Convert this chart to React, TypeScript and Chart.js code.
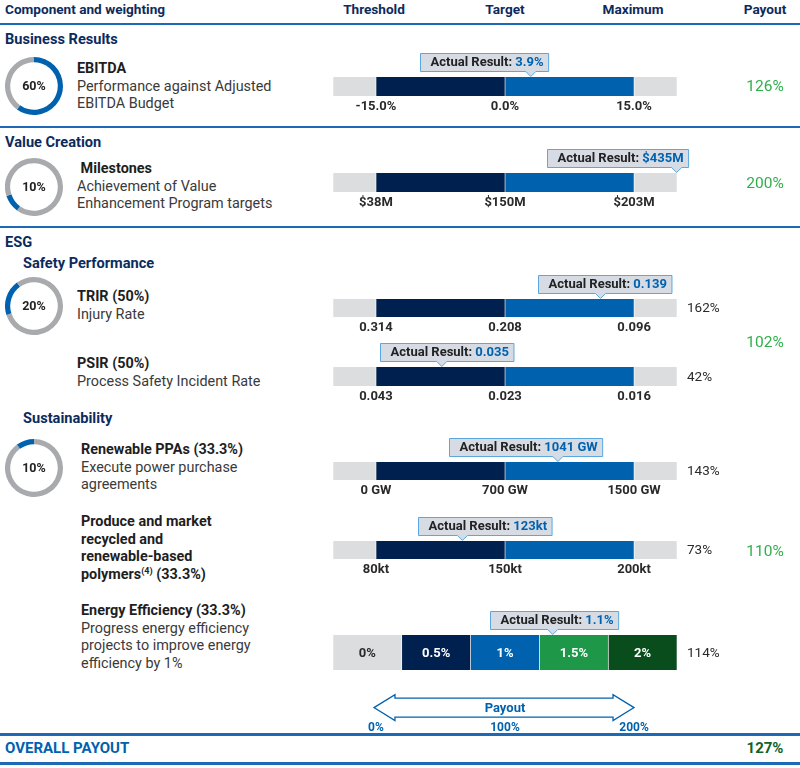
import React, { useEffect, useRef } from "react";
import { Chart, registerables } from "chart.js";
Chart.register(...registerables);

const FONT = "Roboto, 'Noto Sans', 'Liberation Sans', sans-serif";

// ---------------- data ----------------
const componentNames = ["Business Results", "Value Creation", "Safety Performance", "Sustainability"];
const componentWeights = [60, 10, 20, 10];
const componentPayouts = ["126%", "200%", "102%", "110%"];
const overallPayout = "127%";

const thresholdLabels = ["-15.0%", "$38M", "0.314", "0.043", "0 GW", "80kt"];
const targetLabels = ["0.0%", "$150M", "0.208", "0.023", "700 GW", "150kt"];
const maximumLabels = ["15.0%", "$203M", "0.096", "0.016", "1500 GW", "200kt"];
const actualResults = ["3.9%", "$435M", "0.139", "0.035", "1041 GW", "123kt", "1.1%"];
// where the "Actual Result" marker sits, on the payout scale (%)
const markerPositions = [120, 233, 174, 51, 141, 67, 137];
// centre of each callout box, on the payout scale (%)
const calloutCenters = [84, 187, 177, 55, 116, 84, 138];
const metricPayouts = [null, null, "162%", "42%", "143%", "73%", "114%"];

const energyLevels = ["0%", "0.5%", "1%", "1.5%", "2%"];
const energyEdges = [-33.3, 20, 73.3, 126.7, 180, 233.3];

const bandEdges = [-33.3, 0, 100, 200, 233.3]; // below threshold | threshold-target | target-max | above max
const payoutTicks = [0, 100, 200];
const axisMin = -33.3;
const axisMax = 233.3;

// ---------------- styles ----------------
const NAVY_TEXT = "#0c2b5c";
const C_GRAY = "#dcdddf";
const C_NAVY = "#00214f";
const C_BLUE = "#0062ae";
const C_GREEN = "#1f9748";
const C_DKGREEN = "#0a4d1d";
const LINE_BLUE = "#1c6ab6";
const DONUT_GRAY = "#a8aaad";
const bandColors = [C_GRAY, C_NAVY, C_BLUE, C_GRAY];
const energyColors = [C_GRAY, C_NAVY, C_BLUE, C_GREEN, C_DKGREEN];
const energyTextColors = ["#2a2a2a", "#fff", "#fff", "#fff", "#fff"];

// layout of rows (page pixels)
const rowBarTop = [77, 173, 299, 367, 462, 541, 635];
const rowBarHeight = [19, 19, 18, 19, 18, 18, 35];
const ROW_LEFT = 300;
const ROW_WIDTH = 460;
const PAD_L = 33;
const PAD_R = 83;
const PAD_T = 32;
const PAD_B = 20;

function BarRow({ idx }: { idx: number }) {
  const ref = useRef<HTMLCanvasElement>(null);
  const energy = idx === 6;
  const h = rowBarHeight[idx];
  useEffect(() => {
    const edges = energy ? energyEdges : bandEdges;
    const colors = energy ? energyColors : bandColors;
    const datasets = colors.map((c, i) => ({
      data: [[edges[i], edges[i + 1]]],
      backgroundColor: c,
      borderColor: "#ffffff",
      borderWidth: { left: 0.6, right: 0.6, top: 0, bottom: 0 },
      borderSkipped: false,
    }));
    const overlay = {
      id: "overlay" + idx,
      afterDatasetsDraw(chart: any) {
        const ctx = chart.ctx;
        const xs = chart.scales.x;
        const a = chart.chartArea;
        const cy = (a.top + a.bottom) / 2;
        ctx.save();
        ctx.textBaseline = "middle";
        ctx.font = `bold 13px ${FONT}`;
        ctx.textAlign = "center";
        if (energy) {
          energyLevels.forEach((t, i) => {
            ctx.fillStyle = energyTextColors[i];
            const x = (xs.getPixelForValue(energyEdges[i]) + xs.getPixelForValue(energyEdges[i + 1])) / 2;
            ctx.fillText(t, x, cy + 1);
          });
        } else {
          ctx.fillStyle = "#2a2a2a";
          const labs = [thresholdLabels[idx], targetLabels[idx], maximumLabels[idx]];
          labs.forEach((t, i) => ctx.fillText(t, xs.getPixelForValue(payoutTicks[i]), a.bottom + 11));
        }
        const rp = metricPayouts[idx];
        if (rp) {
          ctx.font = `13.5px ${FONT}`;
          ctx.fillStyle = "#2a2a2a";
          ctx.textAlign = "left";
          ctx.fillText(rp, a.right + 10, cy + 1);
        }
        // callout
        ctx.font = `bold 13px ${FONT}`;
        const lab = "Actual Result: ";
        const val = actualResults[idx];
        const w1 = ctx.measureText(lab).width;
        const w2 = ctx.measureText(val).width;
        const bw = w1 + w2 + 15;
        const bh = 18;
        const cxp = xs.getPixelForValue(calloutCenters[idx]);
        const mx = xs.getPixelForValue(markerPositions[idx]);
        const bx = Math.round(cxp - bw / 2) + 0.5;
        const by = Math.round(a.top - 6 - bh) + 0.5;
        ctx.beginPath();
        ctx.moveTo(bx, by);
        ctx.lineTo(bx + bw, by);
        ctx.lineTo(bx + bw, by + bh);
        ctx.lineTo(mx + 5, by + bh);
        ctx.lineTo(mx, by + bh + 5);
        ctx.lineTo(mx - 5, by + bh);
        ctx.lineTo(bx, by + bh);
        ctx.closePath();
        ctx.fillStyle = "#d6dbe4";
        ctx.fill();
        ctx.strokeStyle = "#5aa8de";
        ctx.lineWidth = 1;
        ctx.stroke();
        ctx.textAlign = "left";
        ctx.fillStyle = "#222";
        ctx.fillText(lab, bx + 10, by + bh / 2 + 0.5);
        ctx.fillStyle = C_BLUE;
        ctx.fillText(val, bx + 10 + w1, by + bh / 2 + 0.5);
        ctx.restore();
      },
    };
    const chart = new Chart(ref.current as HTMLCanvasElement, {
      type: "bar",
      data: { labels: [""], datasets: datasets as any },
      options: {
        indexAxis: "y",
        responsive: false,
        animation: false,
        events: [],
        layout: { padding: { left: PAD_L, right: PAD_R, top: PAD_T, bottom: PAD_B } },
        scales: {
          x: { type: "linear", min: axisMin, max: axisMax, display: false },
          y: { display: false },
        },
        datasets: { bar: { grouped: false, barPercentage: 1, categoryPercentage: 1 } } as any,
        plugins: { legend: { display: false }, tooltip: { enabled: false } },
      },
      plugins: [overlay as any],
    });
    return () => chart.destroy();
  }, []);
  return (
    <canvas
      ref={ref}
      width={ROW_WIDTH}
      height={PAD_T + h + PAD_B}
      style={{ position: "absolute", left: ROW_LEFT, top: rowBarTop[idx] - PAD_T }}
    />
  );
}

function Donut({ i, cy }: { i: number; cy: number }) {
  const ref = useRef<HTMLCanvasElement>(null);
  useEffect(() => {
    const before = componentWeights.slice(0, i).reduce((s, v) => s + v, 0);
    const w = componentWeights[i];
    const chart = new Chart(ref.current as HTMLCanvasElement, {
      type: "doughnut",
      data: {
        labels: ["other", componentNames[i], "rest"],
        datasets: [
          {
            data: [before, w, 100 - before - w],
            backgroundColor: [DONUT_GRAY, C_BLUE, DONUT_GRAY],
            borderWidth: 0,
          },
        ],
      },
      options: {
        responsive: false,
        animation: false,
        events: [],
        cutout: "82%",
        plugins: { legend: { display: false }, tooltip: { enabled: false } },
      },
    });
    return () => chart.destroy();
  }, []);
  return (
    <>
      <canvas ref={ref} width={58} height={58} style={{ position: "absolute", left: 5, top: cy - 29 }} />
      <div
        style={{
          position: "absolute",
          left: 5,
          top: cy - 9,
          width: 58,
          textAlign: "center",
          font: `bold 12.5px ${FONT}`,
          lineHeight: "18px",
          color: "#222",
        }}
      >
        {componentWeights[i]}%
      </div>
    </>
  );
}

function PayoutAxis() {
  const ref = useRef<HTMLCanvasElement>(null);
  useEffect(() => {
    const arrow = {
      id: "arrow",
      afterDraw(chart: any) {
        const ctx = chart.ctx;
        const xs = chart.scales.x;
        const a = chart.chartArea;
        const x0 = xs.getPixelForValue(payoutTicks[0]) - 2;
        const x2 = xs.getPixelForValue(payoutTicks[2]);
        const yc = a.bottom - 12;
        const hl = 21, hh = 13, bh = 9.5;
        ctx.save();
        ctx.beginPath();
        ctx.moveTo(x0, yc);
        ctx.lineTo(x0 + hl, yc - hh);
        ctx.lineTo(x0 + hl, yc - bh);
        ctx.lineTo(x2 - hl, yc - bh);
        ctx.lineTo(x2 - hl, yc - hh);
        ctx.lineTo(x2, yc);
        ctx.lineTo(x2 - hl, yc + hh);
        ctx.lineTo(x2 - hl, yc + bh);
        ctx.lineTo(x0 + hl, yc + bh);
        ctx.lineTo(x0 + hl, yc + hh);
        ctx.closePath();
        ctx.fillStyle = "#fff";
        ctx.fill();
        ctx.strokeStyle = C_BLUE;
        ctx.lineWidth = 1.3;
        ctx.stroke();
        ctx.fillStyle = C_BLUE;
        ctx.font = `bold 13px ${FONT}`;
        ctx.textAlign = "center";
        ctx.textBaseline = "middle";
        ctx.fillText("Payout", xs.getPixelForValue(payoutTicks[1]), yc + 1);
        ctx.restore();
      },
    };
    const chart = new Chart(ref.current as HTMLCanvasElement, {
      type: "bar",
      data: { labels: [""], datasets: [{ data: [] }] },
      options: {
        indexAxis: "y",
        responsive: false,
        animation: false,
        events: [],
        layout: { padding: { left: PAD_L, right: PAD_R, top: 4, bottom: 0 } },
        scales: {
          x: {
            type: "linear",
            min: axisMin,
            max: axisMax,
            afterBuildTicks: (s: any) => {
              s.ticks = payoutTicks.map((v) => ({ value: v }));
            },
            ticks: {
              autoSkip: false,
              maxRotation: 0,
              padding: 1,
              color: C_BLUE,
              font: { family: FONT, weight: "bold", size: 12 },
              callback: (v: any) => `${v}%`,
            },
            grid: { display: false, drawTicks: false },
            border: { display: false },
          },
          y: { display: false },
        },
        plugins: { legend: { display: false }, tooltip: { enabled: false } },
      },
      plugins: [arrow as any],
    });
    return () => chart.destroy();
  }, []);
  return <canvas ref={ref} width={ROW_WIDTH} height={48} style={{ position: "absolute", left: ROW_LEFT, top: 688 }} />;
}

type Line = { t: React.ReactNode; b?: boolean };
const textBlocks: { x: number; y: number; lines: Line[] }[] = [
  { x: 77, y: 68, lines: [{ t: "EBITDA", b: true }, { t: "Performance against Adjusted" }, { t: "EBITDA Budget" }] },
  { x: 77, y: 168, lines: [{ t: "\u00a0Milestones", b: true }, { t: "Achievement of Value" }, { t: "Enhancement Program targets" }] },
  { x: 77, y: 296, lines: [{ t: "TRIR (50%)", b: true }, { t: "Injury Rate" }] },
  { x: 77, y: 363, lines: [{ t: "PSIR (50%)", b: true }, { t: "Process Safety Incident Rate" }] },
  { x: 81, y: 449, lines: [{ t: "Renewable PPAs (33.3%)", b: true }, { t: "Execute power purchase" }, { t: "agreements" }] },
  {
    x: 81,
    y: 521,
    lines: [
      { t: "Produce and market", b: true },
      { t: "recycled and", b: true },
      { t: "renewable-based", b: true },
      {
        t: (
          <>
            polymers<sup style={{ fontSize: 9, lineHeight: 0, verticalAlign: "5px" }}>(4)</sup> (33.3%)
          </>
        ),
        b: true,
      },
    ],
  },
  {
    x: 81,
    y: 610,
    lines: [
      { t: "Energy Efficiency (33.3%)", b: true },
      { t: "Progress energy efficiency" },
      { t: "projects to improve energy" },
      { t: "efficiency by 1%" },
    ],
  },
];

const sectionHeads = [
  { t: "Business Results", x: 5, y: 38 },
  { t: "Value Creation", x: 5, y: 141 },
  { t: "ESG", x: 5, y: 241 },
  { t: "Safety Performance", x: 23, y: 262 },
  { t: "Sustainability", x: 23, y: 417 },
];

const colHeads = [
  { t: "Threshold", x: 374 },
  { t: "Target", x: 505 },
  { t: "Maximum", x: 633 },
  { t: "Payout", x: 765 },
];

const donutCenters = [86, 187, 306, 468];
const payoutCenters = [86, 183, 342, 551];

function HLine({ y, h }: { y: number; h: number }) {
  return <div style={{ position: "absolute", left: 0, top: y, width: 800, height: h, background: LINE_BLUE }} />;
}

export default function App() {
  return (
    <div
      style={{
        position: "absolute",
        left: 0,
        top: 0,
        width: 800,
        height: 768,
        background: "#fff",
        fontFamily: FONT,
        overflow: "hidden",
      }}
    >
      <div style={{ position: "absolute", left: 5, top: 1, lineHeight: "18px", font: `bold 13.6px ${FONT}`, color: NAVY_TEXT }}>
        Component and weighting
      </div>
      {colHeads.map((c, i) => (
        <div
          key={i}
          style={{
            position: "absolute",
            left: c.x - 60,
            width: 120,
            top: 1,
            textAlign: "center",
            lineHeight: "18px",
            font: `bold 13.6px ${FONT}`,
            color: NAVY_TEXT,
          }}
        >
          {c.t}
        </div>
      ))}
      <HLine y={23} h={2} />
      <HLine y={126} h={2} />
      <HLine y={226} h={2} />
      <HLine y={733} h={3} />
      <HLine y={762} h={3} />

      {sectionHeads.map((s, i) => (
        <div
          key={i}
          style={{
            position: "absolute",
            left: s.x,
            top: s.y - 8.5,
            lineHeight: "18px",
            font: `bold 14.6px ${FONT}`,
            color: NAVY_TEXT,
            whiteSpace: "nowrap",
          }}
        >
          {s.t}
        </div>
      ))}

      {textBlocks.map((b, i) => (
        <div key={i} style={{ position: "absolute", left: b.x, top: b.y - 8 }}>
          {b.lines.map((l, j) => (
            <div
              key={j}
              style={{
                lineHeight: "17.6px",
                fontSize: 14.4,
                fontWeight: l.b ? 700 : 400,
                color: l.b ? "#1e1e1e" : "#3a3a3a",
                whiteSpace: "nowrap",
              }}
            >
              {l.t}
            </div>
          ))}
        </div>
      ))}

      {donutCenters.map((cy, i) => (
        <Donut key={i} i={i} cy={cy} />
      ))}

      {[0, 1, 2, 3, 4, 5, 6].map((i) => (
        <BarRow key={i} idx={i} />
      ))}

      {componentPayouts.map((p, i) => (
        <div
          key={i}
          style={{
            position: "absolute",
            left: 715,
            width: 100,
            top: payoutCenters[i] - 10,
            lineHeight: "20px",
            textAlign: "center",
            fontSize: 15.5,
            color: "#2eb04b",
          }}
        >
          {p}
        </div>
      ))}

      <PayoutAxis />

      <div
        style={{
          position: "absolute",
          left: 5,
          top: 739,
          lineHeight: "18px",
          font: `bold 15px ${FONT}`,
          color: C_BLUE,
          whiteSpace: "nowrap",
        }}
      >
        OVERALL PAYOUT
      </div>
      <div
        style={{
          position: "absolute",
          left: 715,
          width: 100,
          top: 739,
          lineHeight: "18px",
          textAlign: "center",
          font: `bold 15px ${FONT}`,
          color: "#11612a",
        }}
      >
        {overallPayout}
      </div>
    </div>
  );
}
